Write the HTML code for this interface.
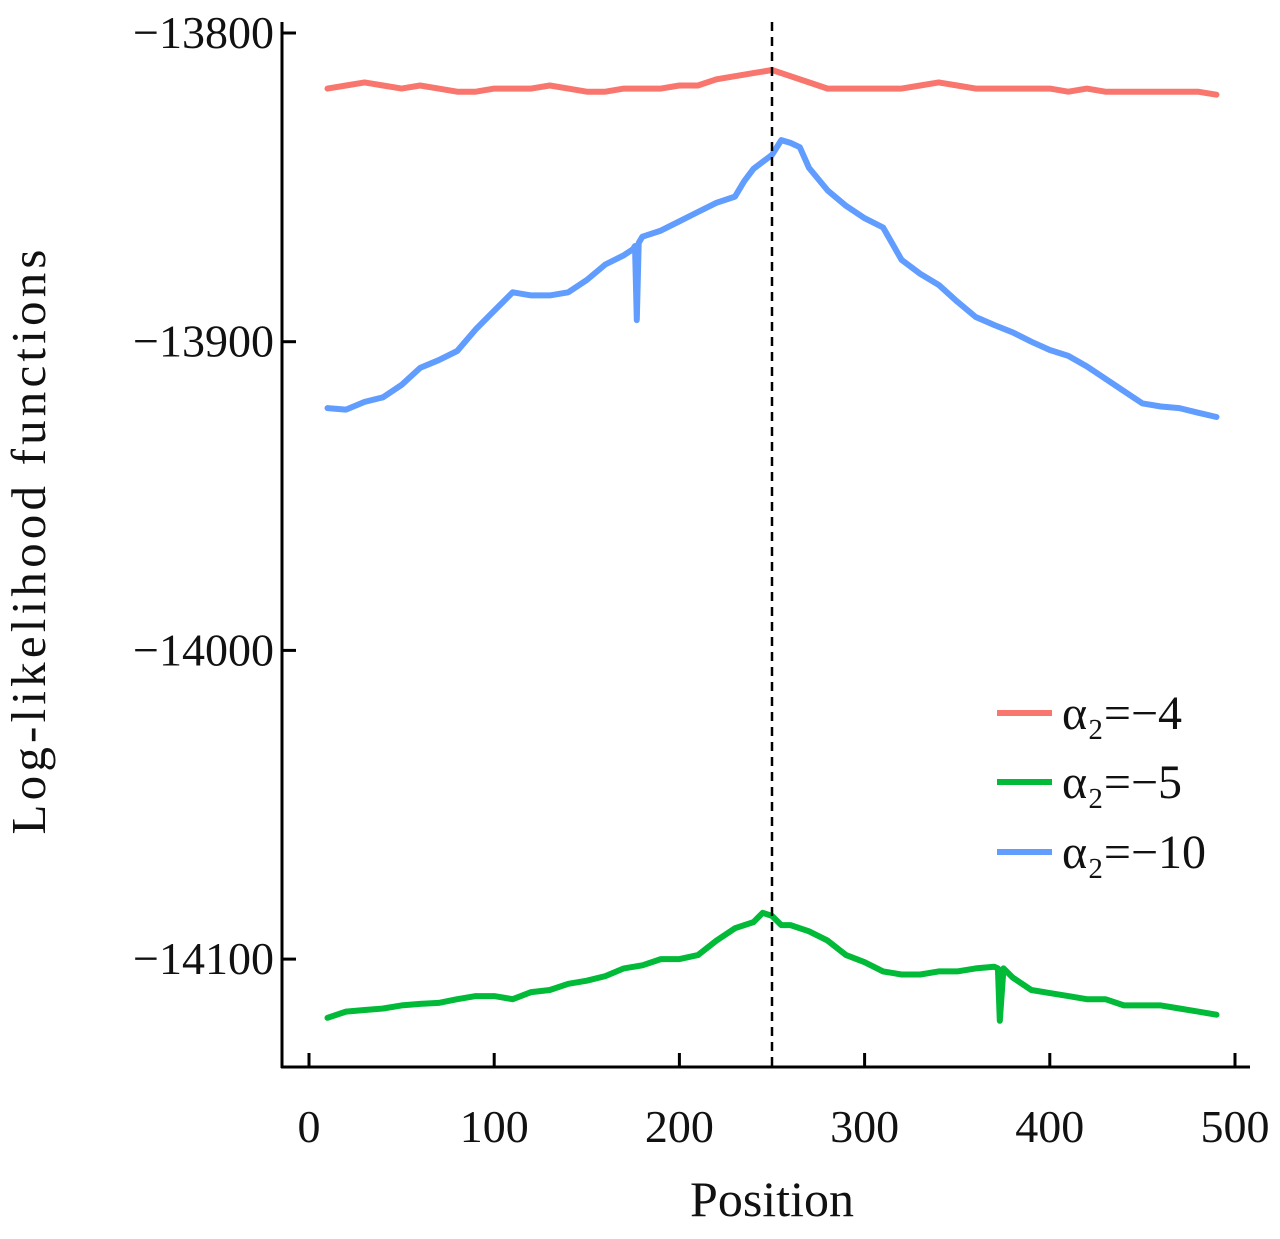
<!DOCTYPE html>
<html><head><meta charset="utf-8"><style>
html,body{margin:0;padding:0;background:#fff;}
svg text{font-family:"Liberation Serif",serif;fill:#111;}
</style></head><body>
<svg id="chart" width="1280" height="1234" viewBox="0 0 1280 1234" xmlns="http://www.w3.org/2000/svg">
<g id="grid"></g>
<g id="series"></g>
<g id="axes"></g>
<g id="legend"></g>
</svg>
<script>
const xTicks=[0,100,200,300,400,500];
const yTicks=[-13800,-13900,-14000,-14100];
const yTickLabels=["\u221213800","\u221213900","\u221214000","\u221214100"];
const seriesNames=["\u03b1\u2082=\u22124","\u03b1\u2082=\u22125","\u03b1\u2082=\u221210"];
const seriesColors=["#f8766d","#00ba38","#619cff"];
const redX=[10,20,30,40,50,60,70,80,90,100,110,120,130,140,150,160,170,180,190,200,210,220,230,240,250,260,270,280,290,300,310,320,330,340,350,360,370,380,390,400,410,420,430,440,450,460,470,480,490];
const redY=[-13818,-13817,-13816,-13817,-13818,-13817,-13818,-13819,-13819,-13818,-13818,-13818,-13817,-13818,-13819,-13819,-13818,-13818,-13818,-13817,-13817,-13815,-13814,-13813,-13812,-13814,-13816,-13818,-13818,-13818,-13818,-13818,-13817,-13816,-13817,-13818,-13818,-13818,-13818,-13818,-13819,-13818,-13819,-13819,-13819,-13819,-13819,-13819,-13820];
const greenX=[10,20,30,40,50,60,70,80,90,100,110,120,130,140,150,160,170,180,190,200,210,220,230,240,245,250,255,260,270,280,290,300,310,320,330,340,350,360,370,372,373,375,380,390,400,410,420,430,440,450,460,470,480,490];
const greenY=[-14119,-14117,-14116.5,-14116,-14115,-14114.5,-14114.2,-14113,-14112,-14112,-14113,-14110.7,-14110,-14108,-14107,-14105.5,-14103,-14102,-14100,-14100,-14098.7,-14094,-14090,-14088,-14085,-14086,-14089,-14089,-14091,-14094,-14098.7,-14101,-14104,-14105,-14105,-14104,-14104,-14103,-14102.5,-14103,-14120,-14103,-14106,-14110,-14111,-14112,-14113,-14113,-14115,-14115,-14115,-14116,-14117,-14118];
const blueX=[10,20,30,40,50,60,70,80,90,100,110,120,130,140,150,160,170,175,176,177,178,180,190,200,210,220,230,235,240,250,255,260,265,270,280,290,300,310,320,330,340,350,360,370,380,390,400,410,420,430,440,450,460,470,480,490];
const blueY=[-13921.5,-13922,-13919.5,-13918,-13914,-13908.5,-13906,-13903,-13896,-13890,-13884,-13885,-13885,-13884,-13880,-13875,-13872,-13870,-13869,-13893,-13868,-13866,-13864,-13861,-13858,-13855,-13853,-13848,-13844,-13839.5,-13834.7,-13835.6,-13837,-13843.7,-13851,-13856,-13860,-13863,-13873.5,-13878,-13881.6,-13887,-13892,-13894.6,-13897,-13900,-13902.7,-13904.6,-13908,-13912,-13916,-13920,-13921,-13921.5,-13923,-13924.4];
const vLine=250;

const NS="http://www.w3.org/2000/svg";
function X(v){return 309+v*1.852;}
function Y(v){return 33+(-13800-v)*3.087;}
function mk(tag,attrs,parent){const e=document.createElementNS(NS,tag);for(const k in attrs)e.setAttribute(k,attrs[k]);parent.appendChild(e);return e;}
const series=document.getElementById('series'),axes=document.getElementById('axes'),legend=document.getElementById('legend');
const datasets=[[redX,redY],[greenX,greenY],[blueX,blueY]];
const names=['red-series-line','green-series-line','blue-series-line'];
datasets.forEach((d,i)=>{
  const pts=d[0].map((x,j)=>X(x).toFixed(1)+','+Y(d[1][j]).toFixed(1)).join(' ');
  const p=mk('polyline',{points:pts,fill:'none',stroke:seriesColors[i],'stroke-width':6,'stroke-linejoin':'round','stroke-linecap':'round'},series);
  
  
});
const vl=mk('line',{x1:X(vLine),x2:X(vLine),y1:22,y2:1067,stroke:'#000','stroke-width':2.5,'stroke-dasharray':'9,6'},series);


const ya=mk('line',{x1:282,x2:282,y1:22,y2:1068,stroke:'#000','stroke-width':3},axes);


const xa=mk('line',{x1:281,x2:1250,y1:1067,y2:1067,stroke:'#000','stroke-width':3},axes);


xTicks.forEach(t=>{
  const l=mk('line',{x1:X(t),x2:X(t),y1:1067,y2:1053,stroke:'#000','stroke-width':3},axes);
  
  
  const tx=mk('text',{x:X(t),y:1142,'text-anchor':'middle','font-size':46},axes);
  tx.textContent=t;
  
  
});
yTicks.forEach((t,i)=>{
  const l=mk('line',{x1:282,x2:296,y1:Y(t),y2:Y(t),stroke:'#000','stroke-width':3},axes);
  
  
  const tx=mk('text',{x:274,y:Y(t)+15,'text-anchor':'end','font-size':46},axes);
  tx.textContent=yTickLabels[i];
  
  
});
const xt=mk('text',{x:772,y:1216,'text-anchor':'middle','font-size':50},axes);
xt.textContent='Position';


const yt=mk('text',{x:0,y:0,'text-anchor':'middle','font-size':49,textLength:585,transform:'translate(45,542) rotate(-90)'},axes);
yt.textContent='Log-likelihood functions';


const legY=[713,782,852];
const legOrder=[0,1,2];
legOrder.forEach((si,i)=>{
  const g=mk('g',{},legend);
  
  
  mk('line',{x1:997,x2:1052,y1:legY[i],y2:legY[i],stroke:seriesColors[si],'stroke-width':6},g);
  const tx=mk('text',{x:1062,y:legY[i]+16,'font-size':48},g);
  tx.textContent=seriesNames[si];
});
</script>
</body></html>
